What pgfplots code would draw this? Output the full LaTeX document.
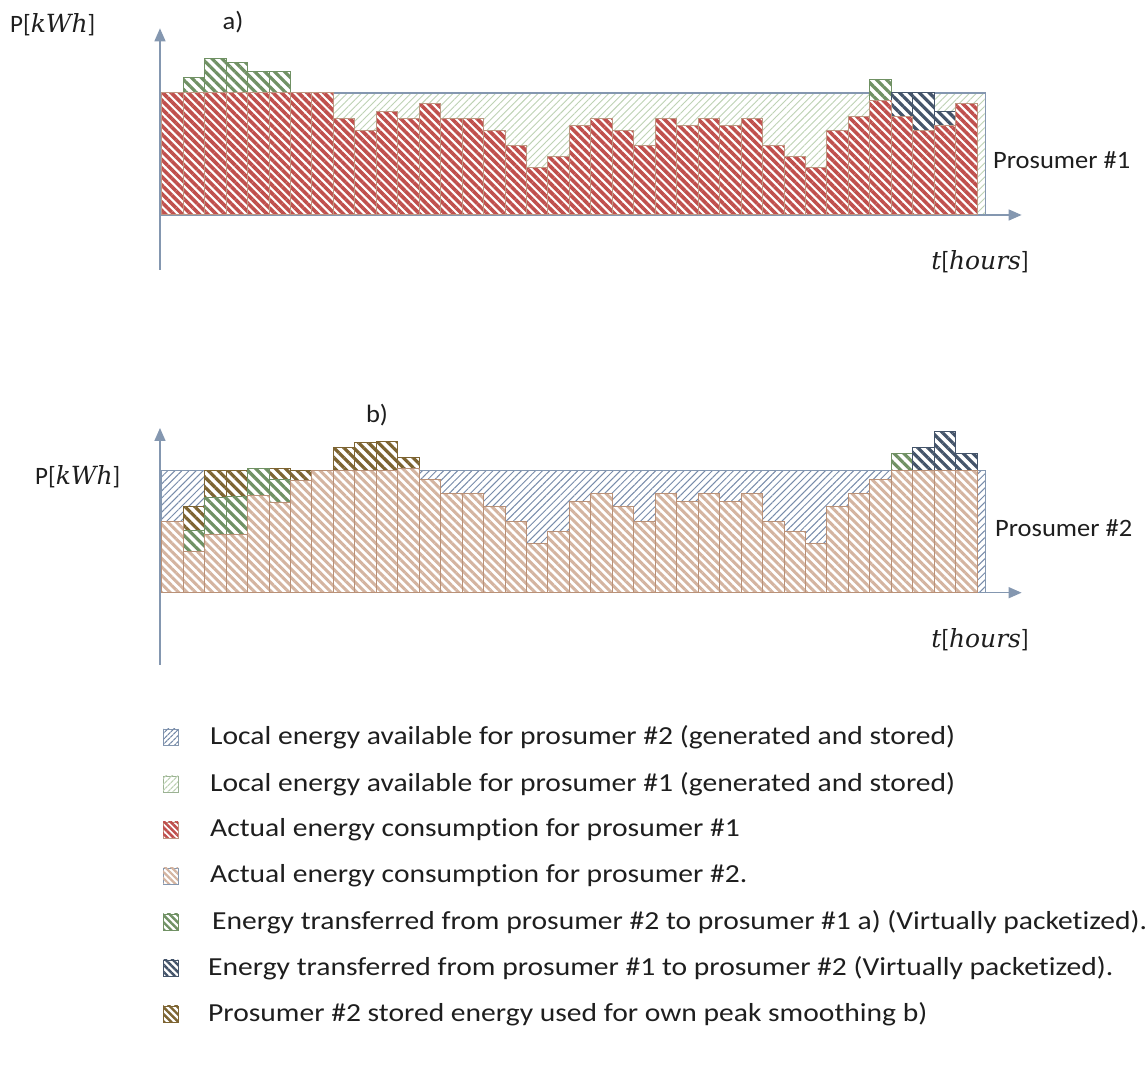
\documentclass[border=0pt]{standalone}
\usepackage{fontspec}
\setmainfont{Carlito}[Ligatures={NoCommon,NoRare}]
\newfontfamily\mitfont{DejaVu Serif}
\usepackage{graphicx}
\usepackage{pgfplots}
\pgfplotsset{compat=1.18}
\usetikzlibrary{patterns.meta,arrows.meta}
\definecolor{frameblue}{RGB}{132,151,176}
\definecolor{av1}{RGB}{190,210,180}
\definecolor{av2}{RGB}{120,140,170}
\definecolor{cred}{RGB}{192,80,77}
\definecolor{credline}{RGB}{190,150,130}
\definecolor{cbeige}{RGB}{212,180,160}
\definecolor{cbeigeline}{RGB}{185,145,120}
\definecolor{cgreen}{RGB}{112,145,100}
\definecolor{cblue}{RGB}{68,84,106}
\definecolor{colive}{RGB}{125,100,50}
\definecolor{txt}{RGB}{30,30,30}
\tikzset{
 pav1/.style={pattern={Lines[angle=45,distance=5pt,line width=0.9pt]}, pattern color=av1},
 pav2/.style={pattern={Lines[angle=45,distance=5pt,line width=1pt]}, pattern color=av2},
 pred/.style={pattern={Lines[angle=-45,distance=6pt,line width=3.6pt]}, pattern color=cred},
 pbeige/.style={pattern={Lines[angle=-45,distance=6pt,line width=3pt]}, pattern color=cbeige},
 pgreen/.style={pattern={Lines[angle=-45,distance=7pt,line width=3.2pt]}, pattern color=cgreen},
 pblue/.style={pattern={Lines[angle=-45,distance=7pt,line width=3.2pt]}, pattern color=cblue},
 polive/.style={pattern={Lines[angle=-45,distance=7pt,line width=3.2pt]}, pattern color=colive},
}
\pgfplotsset{
 barbase/.style={ybar, bar width=1, bar shift=0pt, line width=1pt, fill=white},
 chart/.style={anchor=south west, x=21.46pt, y=12.2pt, xmin=-1, xmax=41, ymin=-7, ymax=17, hide axis, clip=false},
}
\newcommand{\lbl}[1]{\scalebox{1.06}[1]{\fontsize{25}{30}\selectfont #1}}
\newcommand{\leg}[1]{\scalebox{1.137}[1]{\fontsize{26}{31}\selectfont #1}}
\newcommand{\mi}[1]{{\mitfont\itshape #1}}
\newcommand{\unitlbl}[1]{{\fontsize{25}{30}\selectfont #1}}
\newcommand{\nl}{\kern0pt }
\begin{document}
\begin{tikzpicture}[x=1pt,y=1pt]
\useasboundingbox (0,0) rectangle (1148,1084);
% ---------------- chart a) ----------------
\begin{axis}[chart, at={(140.24pt,783.6pt)}]
\addplot[draw=frameblue, line width=1.2pt, fill=white, postaction={pav1}] coordinates {(0,0) (0,10) (38.4,10) (38.4,0)} -- cycle;
\draw[frameblue, line width=1.5pt, -{Triangle[length=13pt,width=11pt]}] (axis cs:-0.08,-4.5) -- (axis cs:-0.08,15.3);
\draw[frameblue, line width=1.5pt, -{Triangle[length=13pt,width=11pt]}] (axis cs:-0.08,0) -- (axis cs:40.07,0);
% transfers (cumulative tops)
\addplot[barbase, draw=cgreen, postaction={pgreen}] coordinates {(1.5,11.3) (2.5,12.8) (3.5,12.5) (4.5,11.8) (5.5,11.8) (33.5,11.1)};
\addplot[barbase, draw=cblue, postaction={pblue}] coordinates {(34.5,10) (35.5,10) (36.5,8.5)};
% consumption prosumer #1
\addplot[barbase, draw=credline, postaction={pred}] coordinates {
(0.5,10) (1.5,10) (2.5,10) (3.5,10) (4.5,10) (5.5,10) (6.5,10) (7.5,10)
(8.5,7.9) (9.5,6.9) (10.5,8.5) (11.5,7.9) (12.5,9.1) (13.5,7.9) (14.5,7.9) (15.5,6.9)
(16.5,5.7) (17.5,3.9) (18.5,4.8) (19.5,7.3) (20.5,7.9) (21.5,6.9) (22.5,5.7) (23.5,7.9)
(24.5,7.3) (25.5,7.9) (26.5,7.3) (27.5,7.9) (28.5,5.7) (29.5,4.8) (30.5,3.9) (31.5,6.9)
(32.5,8.1) (33.5,9.4) (34.5,8.1) (35.5,6.9) (36.5,7.3) (37.5,9.1)};
\end{axis}
% ---------------- chart b) ----------------
\begin{axis}[chart, at={(140.24pt,405.9pt)}]
\addplot[draw=frameblue, line width=1.2pt, fill=white, postaction={pav2}] coordinates {(0,0) (0,10) (38.4,10) (38.4,0)} -- cycle;
\draw[frameblue, line width=1.5pt, -{Triangle[length=13pt,width=11pt]}] (axis cs:-0.08,-5.9) -- (axis cs:-0.08,13.5);
\draw[frameblue, line width=1.5pt, -{Triangle[length=13pt,width=11pt]}] (axis cs:-0.08,0) -- (axis cs:40.07,0);
% stored energy used for own peak smoothing (cumulative tops)
\addplot[barbase, draw=colive, postaction={polive}] coordinates {(1.5,7.1) (2.5,10) (3.5,10) (5.5,10.2) (6.5,10) (8.5,11.9) (9.5,12.3) (10.5,12.4) (11.5,11.1)};
% transfers
\addplot[barbase, draw=cgreen, postaction={pgreen}] coordinates {(1.5,5.1) (2.5,7.8) (3.5,7.9) (4.5,10.2) (5.5,9.3) (34.5,11.4)};
\addplot[barbase, draw=cblue, postaction={pblue}] coordinates {(35.5,11.9) (36.5,13.2) (37.5,11.4)};
% consumption prosumer #2
\addplot[barbase, draw=cbeigeline, postaction={pbeige}] coordinates {
(0.5,5.8) (1.5,3.4) (2.5,4.8) (3.5,4.8) (4.5,8.0) (5.5,7.4) (6.5,9.2) (7.5,10)
(8.5,10) (9.5,10) (10.5,10) (11.5,10.2) (12.5,9.3) (13.5,8.1) (14.5,8.1) (15.5,7.1)
(16.5,5.8) (17.5,4.0) (18.5,5.0) (19.5,7.5) (20.5,8.1) (21.5,7.1) (22.5,5.8) (23.5,8.1)
(24.5,7.5) (25.5,8.1) (26.5,7.5) (27.5,8.1) (28.5,5.8) (29.5,5.0) (30.5,4.0) (31.5,7.1)
(32.5,8.1) (33.5,9.3) (34.5,10) (35.5,10) (36.5,10) (37.5,10)};
\end{axis}
% ---------------- labels ----------------
\node[anchor=west, inner sep=0pt, text=txt] at (10,1059) {\unitlbl{P[\mi{kWh}]}};
\node[inner sep=0pt, text=txt] at (233,1062) {\lbl{a)}};
\node[anchor=west, inner sep=0pt, text=txt] at (993,924) {\lbl{Prosumer \#1}};
\node[inner sep=0pt, text=txt] at (980,822) {\unitlbl{\mi{t}[\mi{hours}]}};
\node[anchor=west, inner sep=0pt, text=txt] at (35,607) {\unitlbl{P[\mi{kWh}]}};
\node[inner sep=0pt, text=txt] at (377,669) {\lbl{b)}};
\node[anchor=west, inner sep=0pt, text=txt] at (995,556) {\lbl{Prosumer \#2}};
\node[inner sep=0pt, text=txt] at (980,444) {\unitlbl{\mi{t}[\mi{hours}]}};
% ---------------- legend ----------------
\def\sw#1#2#3{\draw[#2, line width=0.9pt, fill=white, postaction={#3}] (163,#1-8) rectangle (178,#1+8);}
\sw{347}{frameblue}{pattern={Lines[angle=45,distance=4pt,line width=1.2pt]}, pattern color=av2}
\sw{300}{cgreen!70}{pattern={Lines[angle=45,distance=4pt,line width=1.2pt]}, pattern color=av1}
\sw{254}{credline}{pattern={Lines[angle=-45,distance=4.5pt,line width=2.6pt]}, pattern color=cred}
\sw{208}{frameblue}{pattern={Lines[angle=-45,distance=4.5pt,line width=2.2pt]}, pattern color=cbeige}
\sw{162}{cgreen}{pattern={Lines[angle=-45,distance=5pt,line width=2.4pt]}, pattern color=cgreen}
\sw{116}{cblue}{pattern={Lines[angle=-45,distance=5pt,line width=2.4pt]}, pattern color=cblue}
\sw{70}{colive}{pattern={Lines[angle=-45,distance=5pt,line width=2.4pt]}, pattern color=colive}
\node[anchor=west, inner sep=0pt, text=txt] at (210,347) {\leg{Local energy available for prosumer \#2 (generated and stored)}};
\node[anchor=west, inner sep=0pt, text=txt] at (210,300) {\leg{Local energy available for prosumer \#1 (generated and stored)}};
\node[anchor=west, inner sep=0pt, text=txt] at (210,254) {\leg{Actual energy consump\nl tion for prosumer \#1}};
\node[anchor=west, inner sep=0pt, text=txt] at (210,208) {\leg{Actual energy consump\nl tion for prosumer \#2.}};
\node[anchor=west, inner sep=0pt, text=txt] at (212,162) {\leg{Energy transferred from prosumer \#2 to prosumer \#1 a) (Virtually packet\nl ized).}};
\node[anchor=west, inner sep=0pt, text=txt] at (208,116) {\leg{Energy transferred from prosumer \#1 to prosumer \#2 (Virtually packet\nl ized).}};
\node[anchor=west, inner sep=0pt, text=txt] at (208,70) {\leg{Prosumer \#2 stored energy used for own peak smoothing b)}};
\end{tikzpicture}
\end{document}
